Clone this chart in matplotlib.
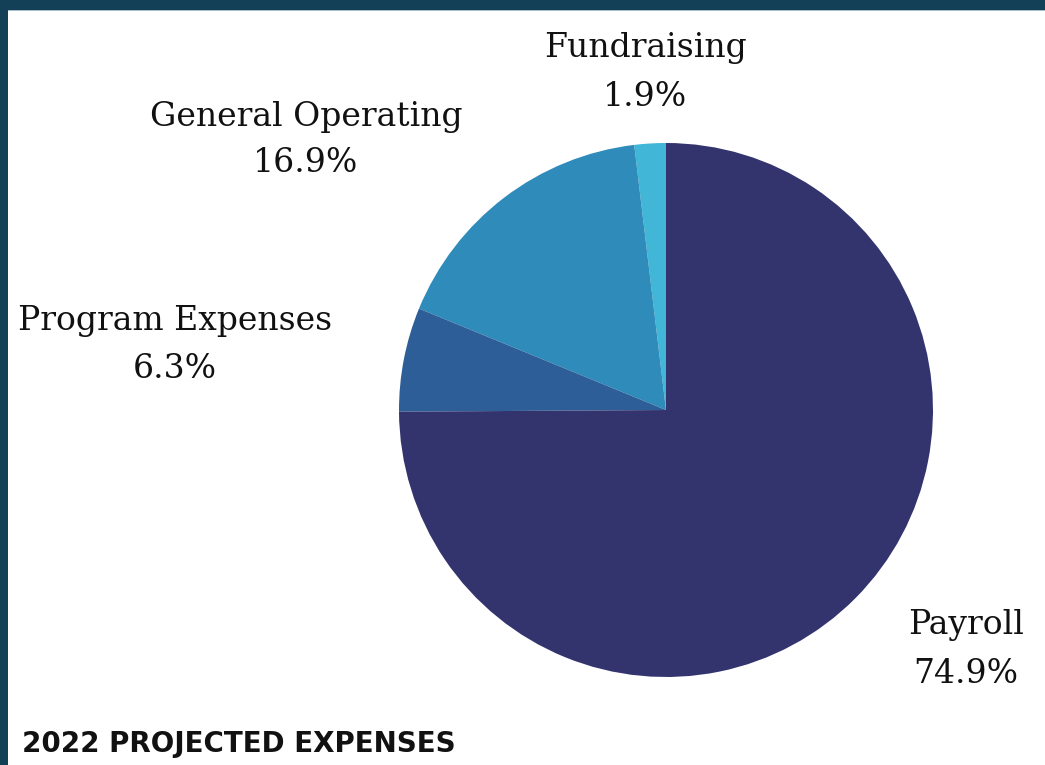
import matplotlib
matplotlib.use("Agg")
import matplotlib.pyplot as plt
from matplotlib.patches import Rectangle

categories = ["Fundraising", "General Operating", "Program Expenses", "Payroll"]
values = [1.9, 16.9, 6.3, 74.9]
colors = ["#41b6d6", "#2e8bba", "#2e5e97", "#33346e"]
title = "2022 PROJECTED EXPENSES"

W, H = 1045, 765
fig = plt.figure(figsize=(W / 100, H / 100), dpi=100)
fig.patch.set_facecolor("white")

# pie axes: center (666,410), radius 267 px
cx, cy, r = 666, 410, 267
ax = fig.add_axes([(cx - r) / W, (H - cy - r) / H, 2 * r / W, 2 * r / H])
ax.pie(values, colors=colors, startangle=90, counterclock=True,
       wedgeprops=dict(linewidth=0))
ax.set_xlim(-1, 1)
ax.set_ylim(-1, 1)
ax.set_aspect("equal")
ax.axis("off")

# label centres in pixel coords (x, y of first line, y of second line)
label_pos = [(645, 48, 97), (306, 117, 163), (175, 321, 369), (966, 625, 674)]
for cat, val, (x, y1, y2) in zip(categories, values, label_pos):
    fig.text(x / W, 1 - y1 / H, cat, ha="center", va="center",
             fontsize=23.8, family="DejaVu Serif", color="#111111")
    fig.text(x / W, 1 - y2 / H, f"{val}%", ha="center", va="center",
             fontsize=23.8, family="DejaVu Serif", color="#111111")

fig.text(22 / W, 1 - 744 / H, title, ha="left", va="center",
         fontsize=20, fontweight="bold", family="DejaVu Sans", color="#111111")

# border bands
border = "#133f57"
fig.patches.append(Rectangle((0, 1 - 11 / H), 1, 1 / H, transform=fig.transFigure,
                             facecolor="#a9bcc7", edgecolor="none", zorder=9))
fig.patches.append(Rectangle((0, 1 - 10 / H), 1, 10 / H, transform=fig.transFigure,
                             facecolor=border, edgecolor="none", zorder=10))
fig.patches.append(Rectangle((0, 0), 8 / W, 1, transform=fig.transFigure,
                             facecolor=border, edgecolor="none", zorder=10))

fig.savefig("out.png", dpi=100, facecolor="white")
